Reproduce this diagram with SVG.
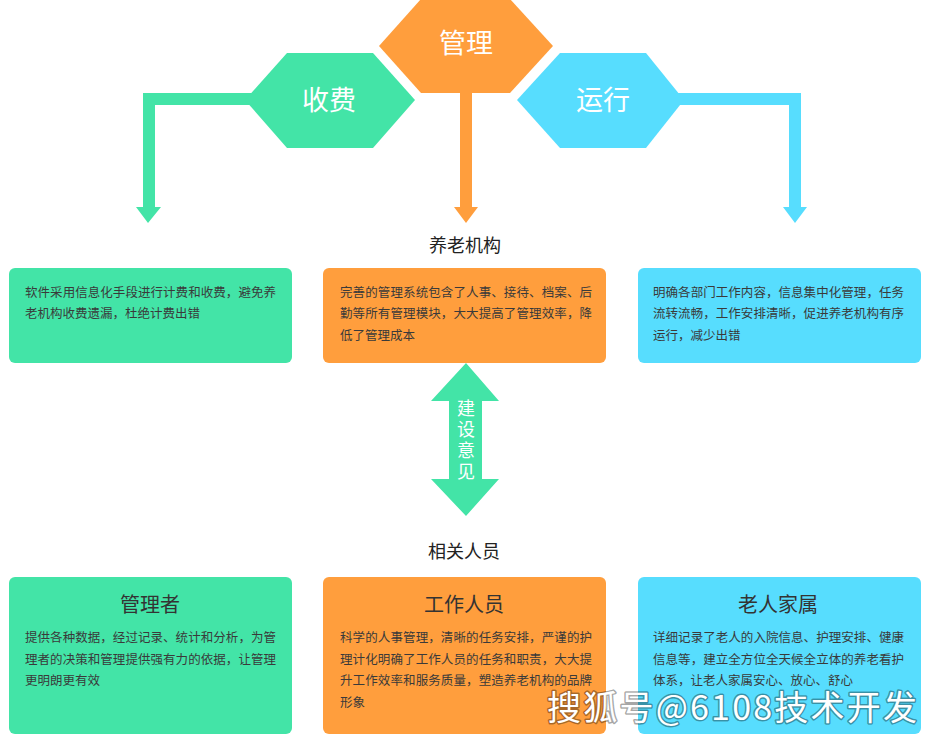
<svg xmlns="http://www.w3.org/2000/svg" width="933" height="737" viewBox="0 0 933 737">
<style>
.g{fill:#43E4A7}.o{fill:#FF9E3D}.c{fill:#57DDFE}
.hx{font-family:"Noto Sans CJK SC","Noto Sans",sans-serif;font-size:27px;fill:#fff;text-anchor:middle}
.lab{font-family:"Noto Sans CJK SC","Noto Sans",sans-serif;font-size:18px;fill:#222;text-anchor:middle}
.body{font-family:"Noto Sans CJK SC","Noto Sans",sans-serif;font-size:12.5px;fill:#3a3a3a}
.ttl{font-family:"Noto Sans CJK SC","Noto Sans",sans-serif;font-size:20px;fill:#333;text-anchor:middle}
.vt{font-family:"Noto Sans CJK SC","Noto Sans",sans-serif;font-size:18px;fill:#fff;writing-mode:vertical-rl;letter-spacing:3px}
.wm{font-family:"Noto Sans CJK SC","Noto Sans",sans-serif;font-size:34px;fill:#fff;stroke:rgba(0,0,0,0.35);stroke-width:3px;paint-order:stroke;stroke-linejoin:round}
</style>
<rect width="933" height="737" fill="#fff"/>
<g id="connectors">
<path class="g" d="M265,93 H143 V207 H136 L148,223 L161,207 H155 V105 H265 Z"/>
<path class="o" d="M460,80 V207 H454 L466,223 L478,207 H472 V80 Z"/>
<path class="c" d="M670,93 H801 V207 H807 L795,223 L783,207 H789 V105 H670 Z"/>
<path id="advice" class="g" d="M466,363 L499,401 H482 V479 H499 L466,516 L431,479 H449 V401 H431 Z"/>
<text id="advice-label" class="vt" x="466" y="399">建设意见</text>
</g>
<g id="hex-fee">
<polygon class="g" points="245,100 287,53 373,53 415,100 373,148 287,148"/>
<text class="hx" x="329" y="110">收费</text>
</g>
<g id="hex-manage">
<polygon class="o" points="379,46 421,-1 510,-1 553,46 510,93 421,93"/>
<text class="hx" x="466" y="53">管理</text>
</g>
<g id="hex-run">
<polygon class="c" points="517,100 560,53 646,53 684,100 646,148 560,148"/>
<text class="hx" x="603" y="110">运行</text>
</g>
<g id="label-org"><text class="lab" x="465" y="252">养老机构</text></g>
<g id="box-fee">
<rect class="g" x="9" y="268" width="283" height="95" rx="6"/>
<text class="body" x="25" y="297" textLength="251">软件采用信息化手段进行计费和收费，避免养</text>
<text class="body" x="25" y="318">老机构收费遗漏，杜绝计费出错</text>
</g>
<g id="box-manage">
<rect class="o" x="323" y="268" width="283" height="95" rx="6"/>
<text class="body" x="340" y="297" textLength="252">完善的管理系统包含了人事、接待、档案、后</text>
<text class="body" x="340" y="318" textLength="252">勤等所有管理模块，大大提高了管理效率，降</text>
<text class="body" x="340" y="340">低了管理成本</text>
</g>
<g id="box-run">
<rect class="c" x="638" y="268" width="283" height="95" rx="6"/>
<text class="body" x="653" y="297" textLength="251">明确各部门工作内容，信息集中化管理，任务</text>
<text class="body" x="653" y="318" textLength="251">流转流畅，工作安排清晰，促进养老机构有序</text>
<text class="body" x="653" y="340">运行，减少出错</text>
</g>
<g id="label-people"><text class="lab" x="464" y="558">相关人员</text></g>
<g id="box-manager">
<rect class="g" x="9" y="577" width="283" height="157" rx="6"/>
<text class="ttl" x="150" y="612">管理者</text>
<text class="body" x="25" y="642" textLength="251">提供各种数据，经过记录、统计和分析，为管</text>
<text class="body" x="25" y="664" textLength="251">理者的决策和管理提供强有力的依据，让管理</text>
<text class="body" x="25" y="685">更明朗更有效</text>
</g>
<g id="box-staff">
<rect class="o" x="323" y="577" width="283" height="157" rx="6"/>
<text class="ttl" x="464" y="612">工作人员</text>
<text class="body" x="340" y="642" textLength="252">科学的人事管理，清晰的任务安排，严谨的护</text>
<text class="body" x="340" y="664" textLength="252">理计化明确了工作人员的任务和职责，大大提</text>
<text class="body" x="340" y="685" textLength="252">升工作效率和服务质量，塑造养老机构的品牌</text>
<text class="body" x="340" y="707">形象</text>
</g>
<g id="box-family">
<rect class="c" x="638" y="577" width="283" height="157" rx="6"/>
<text class="ttl" x="778" y="612">老人家属</text>
<text class="body" x="653" y="642" textLength="251">详细记录了老人的入院信息、护理安排、健康</text>
<text class="body" x="653" y="664" textLength="251">信息等，建立全方位全天候全立体的养老看护</text>
<text class="body" x="653" y="685">体系，让老人家属安心、放心、舒心</text>
</g>
<text class="wm" x="547" y="720" textLength="370">搜狐号@6108技术开发</text>
</svg>
